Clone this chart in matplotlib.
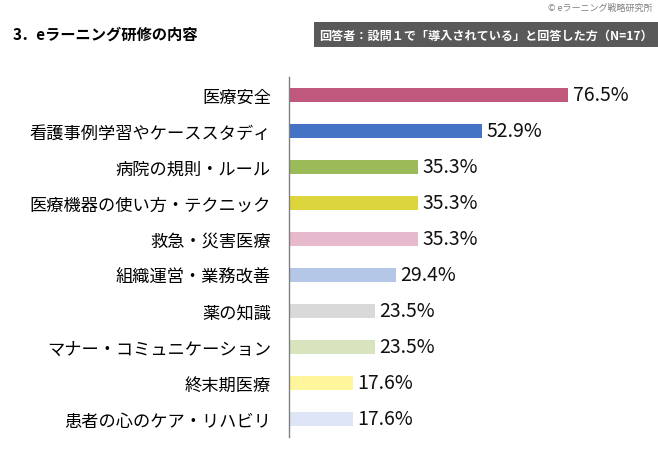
import matplotlib
matplotlib.use("Agg")
import matplotlib.pyplot as plt
from matplotlib.patches import Rectangle

plt.rcParams['font.family'] = ['Noto Sans CJK JP', 'DejaVu Sans']

categories = ["医療安全", "看護事例学習やケーススタディ", "病院の規則・ルール",
              "医療機器の使い方・テクニック", "救急・災害医療", "組織運営・業務改善",
              "薬の知識", "マナー・コミュニケーション", "終末期医療", "患者の心のケア・リハビリ"]
values = [76.5, 52.9, 35.3, 35.3, 35.3, 29.4, 23.5, 23.5, 17.6, 17.6]
colors = ["#C0587E", "#4472C4", "#9BBB59", "#DDD53C", "#E6B9CD",
          "#B4C7E7", "#D9D9D9", "#D7E4BD", "#FFF59A", "#DEE5F6"]
title = "3．eラーニング研修の内容"
header = "回答者：設問１で「導入されている」と回答した方（N=17）"
credit = "© eラーニング戦略研究所"

fig = plt.figure(figsize=(6.58, 4.52), dpi=100)
ax = fig.add_axes([289/658, 1-438/452, 365/658, 360/452])
y = list(range(len(categories)))
ax.barh(y, values, height=0.4, color=colors)
ax.set_ylim(len(categories)-0.5, -0.5)
ax.set_xlim(0, 100)
for yi, v in zip(y, values):
    ax.text(v + 1.2, yi, f"{v:.1f}%", va='center', ha='left', fontsize=14, color='#111111')
ax.set_yticks(y)
ax.set_yticklabels(categories, fontsize=12.4)
ax.tick_params(axis='y', length=0, pad=13)
ax.set_xticks([])
for s in ['top', 'right', 'bottom']:
    ax.spines[s].set_visible(False)
ax.spines['left'].set_color('#808080')
ax.spines['left'].set_linewidth(1)

fig.text(13/658, 1-35/452, title, fontsize=11, fontweight='bold', va='center', ha='left')
fig.patches.append(Rectangle((314/658, 1-48/452), (658-314)/658, 25/452,
                             transform=fig.transFigure, facecolor='#595959', edgecolor='none'))
fig.text(319/658, 1-36/452, header, fontsize=8.7, fontweight='bold', color='white', va='center', ha='left')
fig.text(652/658, 1-8/452, credit, fontsize=6.5, color='#7F7F7F', va='center', ha='right')

fig.savefig("out.png", dpi=100)
